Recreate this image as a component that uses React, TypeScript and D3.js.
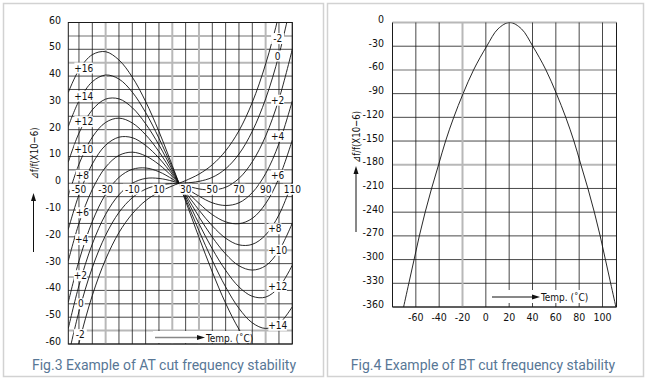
import React from 'react';
import * as d3 from 'd3';

// ---------- Fig.3 AT cut data ----------
const atTemps = [-58, -50, -40, -30, -20, -10, 0, 10, 20, 25, 30, 40, 50, 60, 70, 80, 90, 100, 110];
const atCurveM2 = [-77.4, -59.7, -41.9, -28.4, -18.4, -11.4, -6.5, -3.3, -1.0, 0, 1.0, 3.4, 6.9, 12.1, 19.6, 30.2, 44.5, 63.1, 86.7];
const atCurve0 = [-64.6, -47.9, -31.5, -19.4, -10.9, -5.4, -2.2, -0.7, -0.1, 0, 0.1, 0.7, 2.2, 5.4, 10.9, 19.4, 31.5, 47.9, 69.3];
const atCurveP2 = [-54.2, -38.2, -22.7, -11.6, -4.3, 0.0, 1.8, 1.8, 0.8, 0, -0.8, -2.1, -2.5, -1.5, 1.8, 8.0, 17.6, 31.4, 50.0];
const atCurveP4 = [-44.4, -29.0, -14.3, -4.1, 2.2, 5.2, 5.7, 4.3, 1.6, 0, -1.7, -4.8, -7.3, -8.3, -7.3, -3.5, 3.6, 14.8, 30.7];
const atCurveP6 = [-29.0, -15.0, -2.3, 6.0, 10.4, 11.6, 10.2, 7.0, 2.5, 0, -2.6, -7.5, -11.7, -14.4, -15.1, -13.1, -7.6, 1.9, 16.1];
const atCurveP8 = [-17.2, -4.3, 7.2, 14.2, 17.2, 17.0, 14.1, 9.4, 3.3, 0, -3.4, -10.0, -15.9, -20.5, -23.0, -22.8, -19.3, -11.8, 0.4];
const atCurveP10 = [-4.7, 7.1, 17.2, 22.7, 24.3, 22.5, 18.1, 11.8, 4.1, 0, -4.2, -12.5, -20.1, -26.4, -30.8, -32.4, -30.8, -25.1, -14.9];
const atCurveP12 = [7.9, 18.7, 27.4, 31.4, 31.5, 28.2, 22.2, 14.3, 5.0, 0, -5.0, -15.1, -24.5, -32.5, -38.7, -42.2, -42.5, -38.8, -30.6];
const atCurveP14 = [21.2, 30.7, 37.9, 40.4, 38.9, 34.0, 26.4, 16.8, 5.8, 0, -5.9, -17.7, -28.8, -38.7, -46.7, -52.1, -54.2, -52.4, -46.1];
const atCurveP16 = [33.9, 42.3, 48.0, 49.1, 46.0, 39.6, 30.5, 19.3, 6.6, 0, -6.7, -20.2, -33.1, -44.8, -54.5, -61.8, -65.8, -65.9, -61.5];
const atCurves = [atCurveM2, atCurve0, atCurveP2, atCurveP4, atCurveP6, atCurveP8, atCurveP10, atCurveP12, atCurveP14, atCurveP16];

const atXTickLabels = [-50, -30, -10, 10, 30, 50, 70, 90, 110];
const atYTickLabels = [60, 50, 40, 30, 20, 10, 0, -10, -20, -30, -40, -50, -60];

// curve annotations (label text, temperature, value)
const atLeftLabelText = ['+16', '+14', '+12', '+10', '+8', '+6', '+4', '+2', '0', '-2'];
const atLeftLabelT = [-46.5, -46.5, -46.5, -46.5, -47.5, -47.5, -48, -49, -48.5, -49];
const atLeftLabelV = [43, 32.5, 23, 12.5, 3, -11, -21, -34.5, -45, -56.5];
const atRightLabelText = ['-2', '0', '+2', '+4', '+6', '+8', '+10', '+12', '+14'];
const atRightLabelT = [99, 99, 99, 99, 99, 97, 99, 99, 99];
const atRightLabelV = [54, 47.5, 31, 17.5, 3, -17, -25, -38.5, -53];

// ---------- Fig.4 BT cut data ----------
const btTemps = [-70.5, -66, -61.5, -57, -52, -46.5, -40.5, -34.5, -27.5, -19.5, -10.5, 0.75, 10.5, 20.5, 30.5, 40.25, 51.5, 60.5, 68.5, 75.5, 81.5, 87.5, 93, 98, 102.5, 107, 111.5];
const btValues = [-360, -330, -300, -270, -240, -210, -180, -150, -120, -90, -60, -30, -8, 0, -8, -30, -60, -90, -120, -150, -180, -210, -240, -270, -300, -330, -360];
const btXTickLabels = [-60, -40, -20, 0, 20, 40, 60, 80, 100];
const btYTickLabels = [0, -30, -60, -90, -120, -150, -180, -210, -240, -270, -300, -330, -360];

const tickFont = "'Liberation Sans Narrow','DejaVu Sans Condensed','Liberation Sans',sans-serif";
const gridDark = '#1a1a1a';
const gridGray = '#b8b8b8';

function fmt(v: number) {
  return v < 0 ? '-' + Math.abs(v) : String(v);
}

function LabelBox({ x, y, text, size = 10, anchor = 'middle' }: { x: number; y: number; text: string; size?: number; anchor?: string }) {
  const w = text.length * size * 0.55 + 2;
  const h = size + 1;
  const left = anchor === 'middle' ? x - w / 2 : anchor === 'end' ? x - w : x;
  return (
    <g>
      <rect x={left} y={y - h / 2} width={w} height={h} fill="#fff" />
      <text x={x} y={y + size * 0.36} fontSize={size} textAnchor={anchor as any} fill="#111" fontFamily={tickFont}>
        {text}
      </text>
    </g>
  );
}

export default function App() {
  // ---- left chart scales
  const xL = d3.scaleLinear().domain([-58, 110]).range([68.3, 292.3]);
  const yL = d3.scaleLinear().domain([-60, 60]).range([344, 22.5]);
  // ---- right chart scales
  const xR = d3.scaleLinear().domain([-80, 112]).range([392.5, 616.5]);
  const yR = d3.scaleLinear().domain([-360, 0]).range([307, 22.5]);

  const atLine = d3
    .line<number>()
    .x((_, i) => xL(atTemps[i]))
    .y((d) => yL(d))
    .curve(d3.curveCatmullRom.alpha(0.5));

  const btLine = d3
    .line<number>()
    .x((_, i) => xR(btTemps[i]))
    .y((d) => yR(d))
    .curve(d3.curveCatmullRom.alpha(0.5));

  const lHoriz = d3.range(-60, 61, 5);
  const lVert = d3.range(-50, 111, 10);
  const lGrayH = [55, 45, -25, -35, -55];
  const lGrayV = [-30, 20, 40, 90];

  const rHoriz = d3.range(-360, 1, 30);
  const rVert = d3.range(-60, 101, 20);
  const rGrayH = [0, -60, -180];
  const rGrayV = [-20];

  const [lx0, lx1] = xL.range();
  const [ly1, ly0] = yL.range();
  const [rx0, rx1] = xR.range();
  const [ry1, ry0] = yR.range();

  return (
    <svg width={648} height={381} style={{ position: 'absolute', left: 0, top: 0, background: '#fff' }}>
      <defs>
        <clipPath id="clipL">
          <rect x={lx0} y={ly0} width={lx1 - lx0} height={ly1 - ly0} />
        </clipPath>
        <clipPath id="clipR">
          <rect x={rx0} y={ry0} width={rx1 - rx0} height={ry1 - ry0} />
        </clipPath>
      </defs>
      <rect x={0} y={0} width={648} height={381} fill="#fff" />
      {/* panel frames */}
      <rect x={3.5} y={3.5} width={320} height={373} fill="none" stroke="#d2d2d2" strokeWidth={1.5} />
      <rect x={327.5} y={3.5} width={316} height={373} fill="none" stroke="#d2d2d2" strokeWidth={1.5} />

      {/* ================= LEFT: AT cut ================= */}
      <g>
        {lHoriz.map((v) => (
          <line key={'lh' + v} x1={lx0} x2={lx1} y1={yL(v)} y2={yL(v)}
            stroke={lGrayH.includes(v) ? gridGray : gridDark}
            strokeWidth={lGrayH.includes(v) ? 2 : 0.8} />
        ))}
        {lVert.map((t) => (
          <line key={'lv' + t} x1={xL(t)} x2={xL(t)} y1={ly0} y2={ly1}
            stroke={lGrayV.includes(t) ? gridGray : gridDark}
            strokeWidth={lGrayV.includes(t) ? 2 : 0.8} />
        ))}
        <rect x={lx0} y={ly0} width={lx1 - lx0} height={ly1 - ly0} fill="none" stroke={gridDark} strokeWidth={1} />

        <g clipPath="url(#clipL)">
          {atCurves.map((c, i) => (
            <path key={'c' + i} d={atLine(c) || ''} fill="none" stroke="#111" strokeWidth={0.9} />
          ))}
        </g>

        {/* x tick labels inside plot, below the zero line */}
        {atXTickLabels.map((t) => (
          <LabelBox key={'xt' + t} x={xL(t)} y={yL(0) + 6} text={fmt(t)} size={10} />
        ))}
        {/* y tick labels */}
        {atYTickLabels.map((v) => (
          <text key={'yt' + v} x={61} y={yL(v) + 1} fontSize={10.5} textAnchor="end" fill="#111" fontFamily={tickFont}>
            {fmt(v)}
          </text>
        ))}
        {/* curve labels */}
        {atLeftLabelText.map((s, i) => (
          <LabelBox key={'ll' + i} x={xL(atLeftLabelT[i])} y={yL(atLeftLabelV[i])} text={s} size={10} />
        ))}
        {atRightLabelText.map((s, i) => (
          <LabelBox key={'rl' + i} x={xL(atRightLabelT[i])} y={yL(atRightLabelV[i])} text={s} size={10} />
        ))}

        {/* Temp arrow */}
        <rect x={153} y={331} width={98} height={12} fill="#fff" />
        <line x1={155} x2={198} y1={337.5} y2={337.5} stroke="#888" strokeWidth={1.5} />
        <polygon points="197,335 205,337.5 197,340" fill="#111" />
        <text x={206} y={341.5} fontSize={10} fill="#111" fontFamily={tickFont}>Temp. (˚C)</text>

        {/* y axis title */}
        <text transform="translate(37.5,153.5) rotate(-90)" fontSize={11} textAnchor="middle" fill="#111"
          fontFamily={tickFont} textLength={52} lengthAdjust="spacingAndGlyphs">⊿f/f(X10−6)</text>
        <line x1={33.5} x2={33.5} y1={199} y2={252} stroke="#111" strokeWidth={1} />
        <polygon points="31,201 33.5,193 36,201" fill="#111" />

        <text x={164} y={370} fontSize={14} textAnchor="middle" fill="#587796" fontFamily="Roboto, 'Open Sans', sans-serif">
          Fig.3 Example of AT cut frequency stability
        </text>
      </g>

      {/* ================= RIGHT: BT cut ================= */}
      <g>
        {rHoriz.map((v) => (
          <line key={'rh' + v} x1={rx0} x2={rx1} y1={yR(v)} y2={yR(v)}
            stroke={rGrayH.includes(v) ? gridGray : gridDark}
            strokeWidth={rGrayH.includes(v) ? 2 : 0.8} />
        ))}
        {rVert.map((t) => (
          <line key={'rv' + t} x1={xR(t)} x2={xR(t)} y1={ry0} y2={ry1}
            stroke={rGrayV.includes(t) ? gridGray : gridDark}
            strokeWidth={rGrayV.includes(t) ? 2 : 0.8} />
        ))}
        <line x1={rx0} x2={rx0} y1={ry0} y2={ry1} stroke={gridDark} strokeWidth={1} />
        <line x1={rx1} x2={rx1} y1={ry0} y2={ry1} stroke={gridDark} strokeWidth={1} />
        <line x1={rx0} x2={rx1} y1={ry1} y2={ry1} stroke={gridDark} strokeWidth={1} />

        <g clipPath="url(#clipR)">
          <path d={btLine(btValues) || ''} fill="none" stroke="#111" strokeWidth={0.9} />
        </g>

        {btXTickLabels.map((t) => (
          <text key={'bx' + t} x={xR(t)} y={320.5} fontSize={10.5} textAnchor="middle" fill="#111" fontFamily={tickFont}>
            {fmt(t)}
          </text>
        ))}
        {btYTickLabels.map((v) => (
          <text key={'by' + v} x={384} y={yR(v) + 0.5} fontSize={10.5} textAnchor="end" fill="#111" fontFamily={tickFont}>
            {fmt(v)}
          </text>
        ))}

        <rect x={490} y={290} width={96} height={13} fill="#fff" />
        <line x1={492} x2={533} y1={297} y2={297} stroke="#111" strokeWidth={1} />
        <polygon points="532,294.5 540,297 532,299.5" fill="#111" />
        <text x={541} y={300.5} fontSize={10} fill="#111" fontFamily={tickFont}>Temp. (˚C)</text>

        <text transform="translate(360,137) rotate(-90)" fontSize={11} textAnchor="middle" fill="#111"
          fontFamily={tickFont} textLength={52} lengthAdjust="spacingAndGlyphs">⊿f/f(X10−6)</text>
        <line x1={356} x2={356} y1={172} y2={232} stroke="#111" strokeWidth={1} />
        <polygon points="353.5,174 356,166 358.5,174" fill="#111" />

        <text x={483} y={370} fontSize={14} textAnchor="middle" fill="#587796" fontFamily="Roboto, 'Open Sans', sans-serif">
          Fig.4 Example of BT cut frequency stability
        </text>
      </g>
    </svg>
  );
}
